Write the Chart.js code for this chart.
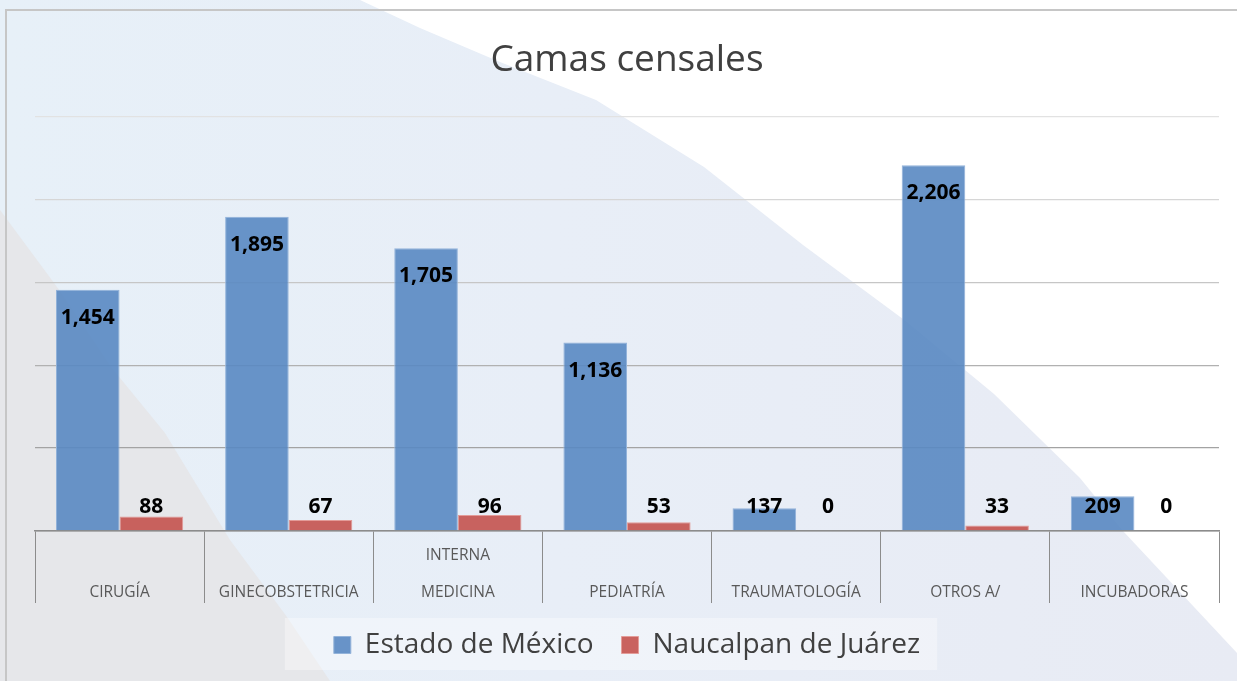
<!DOCTYPE html>
<html lang="es">
<head>
<meta charset="utf-8">
<title>Camas censales</title>
<script src="https://cdn.jsdelivr.net/npm/chart.js@4.4.1/dist/chart.umd.min.js"></script>
<style>
  html, body { margin: 0; padding: 0; background: #fff; }
  #wrap { width: 1237px; height: 681px; }
</style>
</head>
<body>
<div id="wrap"><canvas id="chartCamas" width="1237" height="681"></canvas></div>
<script>
// categorias del eje X (MEDICINA INTERNA viene partida en dos renglones)
const categorias = [
  "CIRUGÍA",
  "GINECOBSTETRICIA",
  ["INTERNA", "MEDICINA"],
  "PEDIATRÍA",
  "TRAUMATOLOGÍA",
  "OTROS A/",
  "INCUBADORAS",
];
const series = ["Estado de México", "Naucalpan de Juárez"];
const estadoMexico = [1454, 1895, 1705, 1136, 137, 2206, 209];
const naucalpan = [88, 67, 96, 53, 0, 33, 0];
const yMax = 2500;
const yStep = 500;

const fmt = (v) => Number(v).toLocaleString("en-US");

function poly(ctx, color, pts) {
  ctx.beginPath();
  pts.forEach(([x, y], i) => (i ? ctx.lineTo(x, y) : ctx.moveTo(x, y)));
  ctx.closePath();
  ctx.fillStyle = color;
  ctx.fill();
}

// fondo de la diapositiva + marco + recuadro de la leyenda
const fondo = {
  id: "fondo",
  beforeDraw(chart) {
    const { ctx, width, height } = chart;
    ctx.save();
    const g = ctx.createLinearGradient(0, 0, width, 0);
    g.addColorStop(0, "#e7f0f8");
    g.addColorStop(0.45, "#e8eef7");
    g.addColorStop(1, "#e8ebf4");
    ctx.fillStyle = g;
    ctx.fillRect(0, 0, width, height);
    poly(ctx, "#e6e7ea", [
      [0, 210], [57, 287], [111, 367], [165, 433], [230, 540], [287, 617], [330, 681], [0, 681],
    ]);
    poly(ctx, "#ffffff", [
      [360, 0], [1237, 0], [1237, 653], [1123, 531], [1080, 478], [994, 394],
      [907, 322], [803, 245], [704, 167], [596, 100], [500, 62], [420, 28],
    ]);

    // marco del grafico
    ctx.strokeStyle = "#c6c6c6";
    ctx.lineWidth = 2;
    ctx.beginPath();
    ctx.moveTo(6, height);
    ctx.lineTo(6, 10);
    ctx.lineTo(width, 10);
    ctx.stroke();

    // recuadro claro detras de la leyenda
    const boxes = chart.legend && chart.legend.legendHitBoxes;
    if (boxes && boxes.length) {
      const first = boxes[0];
      const last = boxes[boxes.length - 1];
      const x0 = first.left - 49;
      const x1 = last.left + last.width + 17;
      ctx.fillStyle = "rgba(255,255,255,0.35)";
      ctx.fillRect(x0, first.top - 13, x1 - x0, 52);
    }
    ctx.restore();
  },
};

// etiquetas de datos
const etiquetas = {
  id: "etiquetas",
  afterDatasetsDraw(chart) {
    const { ctx } = chart;
    const base = chart.scales.y.getPixelForValue(0);
    ctx.save();
    ctx.font = "bold 21px 'Open Sans'";
    ctx.fillStyle = "#000";
    ctx.textAlign = "center";
    ctx.textBaseline = "middle";
    chart.data.datasets.forEach((ds, i) => {
      chart.getDatasetMeta(i).data.forEach((bar, j) => {
        const y = i === 0 ? Math.min(bar.y + 28, base - 24) : base - 24;
        ctx.fillText(fmt(ds.data[j]), bar.x, y);
      });
    });
    ctx.restore();
  },
};

// lineas guia: mas oscuras abajo, mas claras arriba
const gridColors = ["#8c8c8c", "#a3a3a3", "#b1b1b1", "#c6c6c6", "#d6d6d6", "#e2e2e2"];

new Chart(document.getElementById("chartCamas"), {
  type: "bar",
  data: {
    labels: categorias,
    datasets: [
      {
        label: series[0],
        data: estadoMexico,
        backgroundColor: "rgba(89,136,194,0.9)",
        borderColor: "#93b3da",
        borderWidth: 1,
      },
      {
        label: series[1],
        data: naucalpan,
        backgroundColor: "rgba(196,82,78,0.9)",
        borderColor: "#e39c99",
        borderWidth: 1,
      },
    ],
  },
  options: {
    responsive: false,
    devicePixelRatio: 1,
    animation: false,
    categoryPercentage: 0.752,
    barPercentage: 1,
    layout: { padding: { left: 35, right: 18, top: 0, bottom: 12 } },
    plugins: {
      tooltip: { enabled: false },
      title: {
        display: true,
        text: "Camas censales",
        color: "#404040",
        font: { family: "'Open Sans'", size: 37, weight: "normal", lineHeight: 1.2 },
        padding: { top: 38, bottom: 34 },
      },
      legend: {
        position: "bottom",
        labels: {
          color: "#404040",
          font: { family: "'Open Sans'", size: 28 },
          boxWidth: 17,
          boxHeight: 17,
          padding: 28,
        },
      },
    },
    scales: {
      x: {
        grid: {
          display: true,
          drawOnChartArea: false,
          drawTicks: true,
          tickLength: 72,
          offset: true,
          color: "#8c8c8c",
          lineWidth: 1,
        },
        border: { display: true, color: "#8c8c8c", width: 1.5 },
        ticks: {
          autoSkip: false,
          maxRotation: 0,
          crossAlign: "far",
          padding: -47,
          color: "#595959",
          font: { family: "'Open Sans'", size: 15.5, lineHeight: 2.39 },
        },
        afterFit(scale) {
          scale.height = 72;
        },
      },
      y: {
        min: 0,
        max: yMax,
        ticks: { display: false, stepSize: yStep },
        grid: {
          color: (c) => gridColors[c.index] || "#d9d9d9",
          lineWidth: 1.3,
          drawTicks: false,
        },
        border: { display: false },
        afterFit(scale) {
          scale.width = 0;
        },
      },
    },
  },
  plugins: [fondo, etiquetas],
});
</script>
</body>
</html>
